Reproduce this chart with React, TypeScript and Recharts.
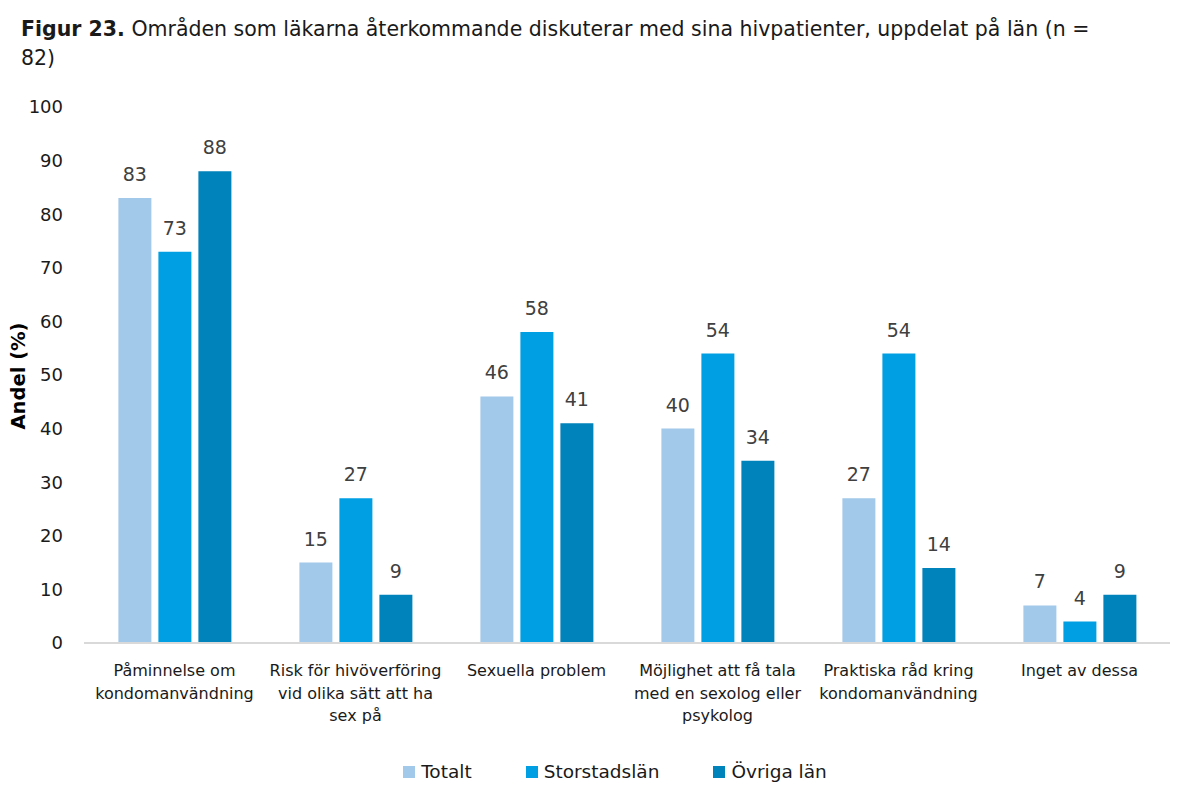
import React from "react";
import { BarChart, Bar, XAxis, YAxis, Legend, LabelList } from "recharts";

const categories = [
  "Påminnelse om kondomanvändning",
  "Risk för hivöverföring vid olika sätt att ha sex på",
  "Sexuella problem",
  "Möjlighet att få tala med en sexolog eller psykolog",
  "Praktiska råd kring kondomanvändning",
  "Inget av dessa",
];
const categoryLines = [
  ["Påminnelse om", "kondomanvändning"],
  ["Risk för hivöverföring", "vid olika sätt att ha", "sex på"],
  ["Sexuella problem"],
  ["Möjlighet att få tala", "med en sexolog eller", "psykolog"],
  ["Praktiska råd kring", "kondomanvändning"],
  ["Inget av dessa"],
];
const totalt = [83, 15, 46, 40, 27, 7];
const storstadslan = [73, 27, 58, 54, 54, 4];
const ovrigaLan = [88, 9, 41, 34, 14, 9];
const yTicks = [0, 10, 20, 30, 40, 50, 60, 70, 80, 90, 100];

const seriesNames = ["Totalt", "Storstadslän", "Övriga län"];
const colors = ["#A2C8EA", "#009FE3", "#0082BA"];

const data = categories.map((c, i) => ({
  name: c,
  idx: i,
  totalt: totalt[i],
  storstadslan: storstadslan[i],
  ovrigaLan: ovrigaLan[i],
}));

const FONT = "'DejaVu Sans', sans-serif";

const XTick = (props: any) => {
  const { x, y, payload } = props;
  const lines = categoryLines[payload.index] || [String(payload.value)];
  return (
    <text x={x} y={y} textAnchor="middle" fontFamily={FONT} fontSize={16} fill="#1a1a1a">
      {lines.map((l, i) => (
        <tspan key={i} x={x} dy={i === 0 ? 25 : 22.5}>
          {l}
        </tspan>
      ))}
    </text>
  );
};

const LegendContent = () => (
  <div
    style={{
      display: "flex",
      justifyContent: "center",
      fontFamily: FONT,
      fontSize: 18.5,
      color: "#1a1a1a",
      paddingTop: 8,
      paddingLeft: 60,
    }}
  >
    {seriesNames.map((n, i) => (
      <div key={n} style={{ display: "flex", alignItems: "center", marginRight: i < 2 ? 54 : 0 }}>
        <span style={{ display: "inline-block", width: 12, height: 12, background: colors[i], marginRight: 6 }} />
        <span>{n}</span>
      </div>
    ))}
  </div>
);

export default function App() {
  return (
    <div style={{ position: "absolute", left: 0, top: 0, width: 1187, height: 785, background: "#fff" }}>
      <div
        style={{
          position: "absolute",
          left: 21,
          top: 15,
          fontFamily: FONT,
          fontSize: 20.5,
          lineHeight: "29px",
          color: "#1a1a1a",
          whiteSpace: "nowrap",
        }}
      >
        <div>
          <b>Figur 23.</b> Områden som läkarna återkommande diskuterar med sina hivpatienter, uppdelat på län (n =
        </div>
        <div>82)</div>
      </div>
      <div
        style={{
          position: "absolute",
          left: 18,
          top: 376,
          transform: "translate(-50%, -50%) rotate(-90deg)",
          fontFamily: FONT,
          fontSize: 19.5,
          fontWeight: "bold",
          color: "#000",
          whiteSpace: "nowrap",
        }}
      >
        Andel (%)
      </div>
      <BarChart
        width={1187}
        height={785}
        data={data}
        margin={{ top: 107, right: 17, bottom: 0, left: 0 }}
        barGap={7}
        barCategoryGap="19%"
      >
        <XAxis
          dataKey="name"
          tick={<XTick />}
          tickLine={false}
          axisLine={{ stroke: "#D9D9D9", strokeWidth: 2 }}
          height={110}
          interval={0}
        />
        <YAxis
          domain={[0, 100]}
          ticks={yTicks}
          axisLine={false}
          tickLine={false}
          tickSize={0}
          tickMargin={21}
          width={84}
          tick={{ fontFamily: FONT, fontSize: 18, fill: "#1a1a1a" }}
        />
        <Legend verticalAlign="bottom" content={<LegendContent />} wrapperStyle={{ height: 32 }} />
        {(["totalt", "storstadslan", "ovrigaLan"] as const).map((k, i) => (
          <Bar key={k} dataKey={k} name={seriesNames[i]} fill={colors[i]} isAnimationActive={false}>
            <LabelList dataKey={k} position="top" offset={17} fill="#404040" fontFamily={FONT} fontSize={19} />
          </Bar>
        ))}
      </BarChart>
    </div>
  );
}
